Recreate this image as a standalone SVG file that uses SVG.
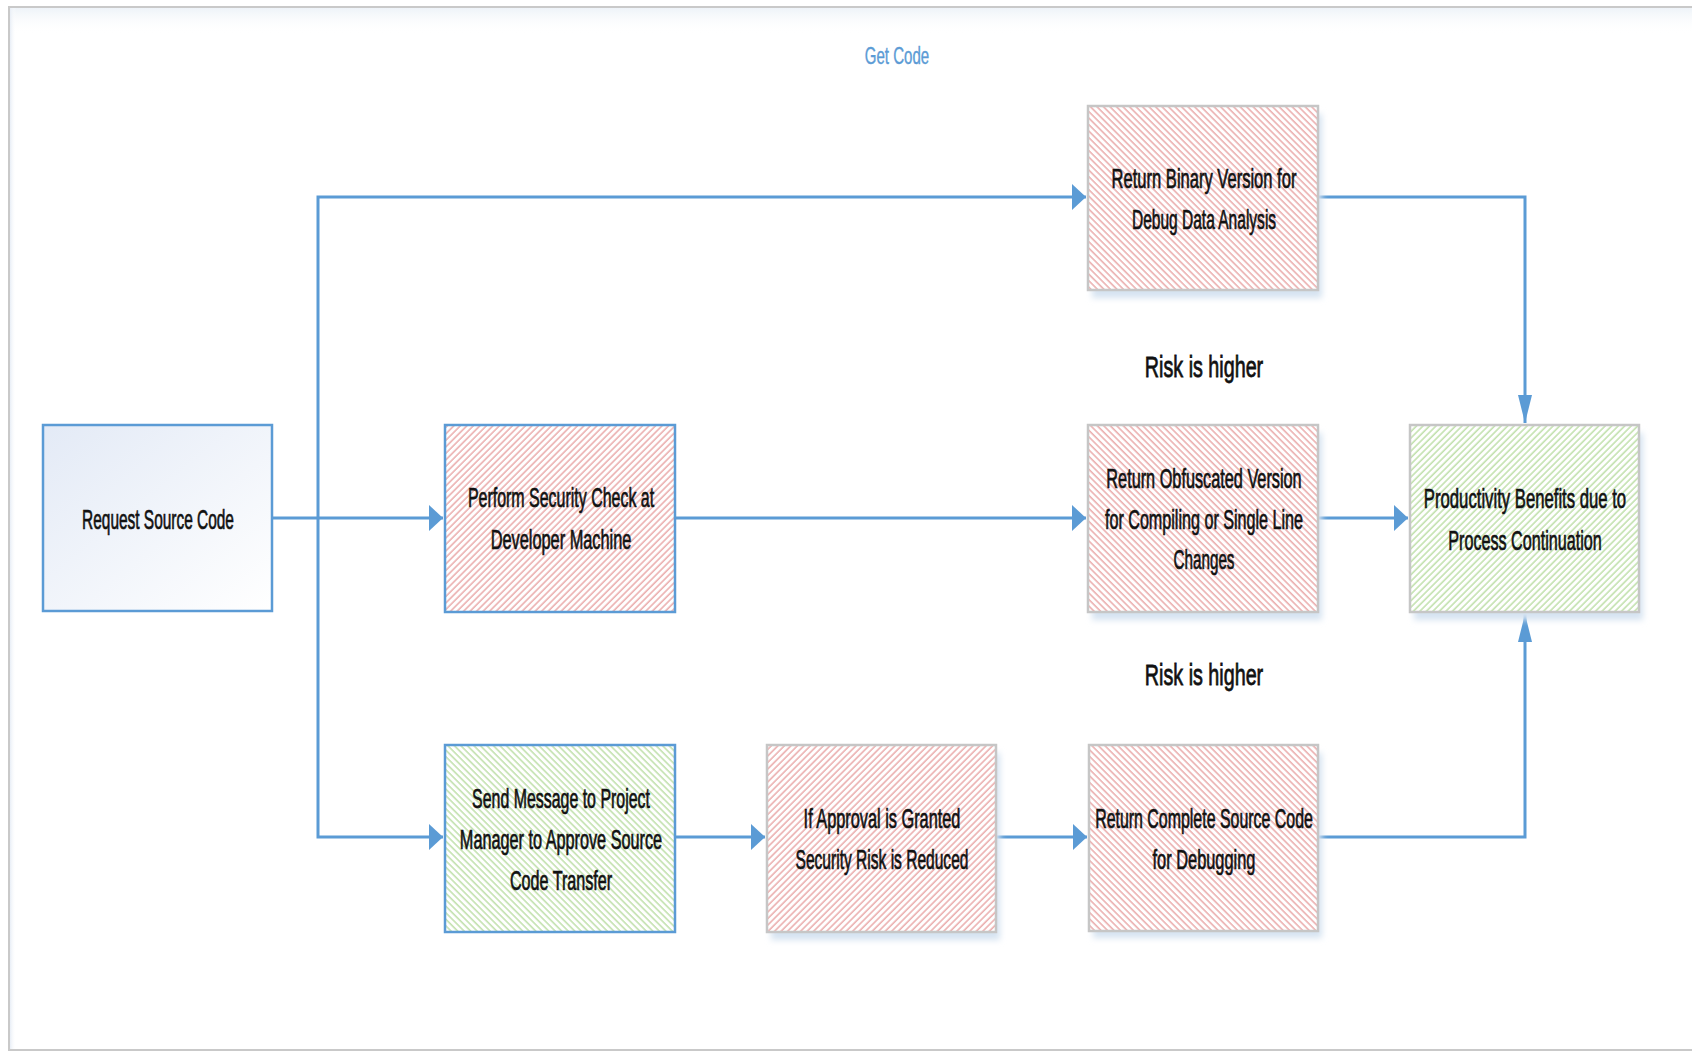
<svg xmlns="http://www.w3.org/2000/svg" width="1692" height="1052" viewBox="0 0 1692 1052">
  <defs>
    <style>
      .lbl { font-family: "Liberation Sans", Arial, sans-serif; font-size: 27px; fill: #111; stroke: #111; stroke-width: 0.7; text-anchor: middle; }
      .risk { font-family: "Liberation Sans", Arial, sans-serif; font-size: 30px; fill: #111; stroke: #111; stroke-width: 0.8; text-anchor: middle; }
      .title { font-family: "Liberation Sans", Arial, sans-serif; font-size: 24px; fill: #5b9bd5; stroke: #5b9bd5; stroke-width: 0.4; text-anchor: middle; }
      .edge { fill: none; stroke: #5b9bd5; stroke-width: 3; }
      .bb { stroke: #5b9bd5; stroke-width: 2.5; }
      .gb { stroke: #c6c6c6; stroke-width: 2.5; }
    </style>
    <!-- diagonal hatch fills -->
    <pattern id="redBack" patternUnits="userSpaceOnUse" width="4.6" height="10" patternTransform="rotate(-45)">
      <rect width="4.6" height="10" fill="#ffffff"/>
      <line x1="1" y1="0" x2="1" y2="10" stroke="#e38c8c" stroke-width="1.1"/>
    </pattern>
    <pattern id="redFwd" patternUnits="userSpaceOnUse" width="4.6" height="10" patternTransform="rotate(45)">
      <rect width="4.6" height="10" fill="#ffffff"/>
      <line x1="1" y1="0" x2="1" y2="10" stroke="#e38c8c" stroke-width="1.1"/>
    </pattern>
    <pattern id="greenBack" patternUnits="userSpaceOnUse" width="4.6" height="10" patternTransform="rotate(-45)">
      <rect width="4.6" height="10" fill="#ffffff"/>
      <line x1="1" y1="0" x2="1" y2="10" stroke="#a8d48a" stroke-width="1.1"/>
    </pattern>
    <pattern id="greenFwd" patternUnits="userSpaceOnUse" width="4.6" height="10" patternTransform="rotate(45)">
      <rect width="4.6" height="10" fill="#ffffff"/>
      <line x1="1" y1="0" x2="1" y2="10" stroke="#a8d48a" stroke-width="1.1"/>
    </pattern>
    <linearGradient id="startFill" x1="0" y1="0" x2="1" y2="1">
      <stop offset="0" stop-color="#e3eaf6"/>
      <stop offset="1" stop-color="#ffffff"/>
    </linearGradient>
    <linearGradient id="topBand" x1="0" y1="0" x2="0" y2="1">
      <stop offset="0" stop-color="#eef3f8"/>
      <stop offset="1" stop-color="#ffffff" stop-opacity="0"/>
    </linearGradient>
    <linearGradient id="leftBand" x1="0" y1="0" x2="1" y2="0">
      <stop offset="0" stop-color="#e8eef6"/>
      <stop offset="1" stop-color="#ffffff" stop-opacity="0"/>
    </linearGradient>
    <filter id="soft" x="-10%" y="-10%" width="120%" height="130%">
      <feGaussianBlur stdDeviation="3"/>
    </filter>
    <!-- arrowheads: horizontal runs and vertical runs -->
    <marker id="ah" markerUnits="userSpaceOnUse" markerWidth="14" markerHeight="26" refX="14" refY="13" orient="auto">
      <path d="M0,0 L14,13 L0,26 Z" fill="#5b9bd5"/>
    </marker>
    <marker id="av" markerUnits="userSpaceOnUse" markerWidth="28" markerHeight="14" refX="28" refY="7" orient="auto">
      <path d="M0,0 L28,7 L0,14 Z" fill="#5b9bd5"/>
    </marker>
  </defs>

  <!-- page -->
  <rect x="0" y="0" width="1692" height="1052" fill="#ffffff"/>
  <rect x="9" y="7" width="1700" height="1043" fill="#ffffff" stroke="#c9c9c9" stroke-width="2"/>
  <rect x="10" y="8" width="1682" height="26" fill="url(#topBand)"/>
  <rect x="10" y="8" width="6" height="1041" fill="url(#leftBand)"/>

  <g transform="translate(897,0) scale(0.7,1)">
    <text class="title" x="0" y="64" textLength="92" lengthAdjust="spacingAndGlyphs">Get Code</text>
  </g>

  <!-- connectors -->
  <g id="connectors">
    <path class="edge" d="M272,518 L443,518" marker-end="url(#ah)"/>
    <path class="edge" d="M318,518 L318,197 L1086,197" marker-end="url(#ah)"/>
    <path class="edge" d="M318,518 L318,837 L443,837" marker-end="url(#ah)"/>
    <path class="edge" d="M675,518 L1086,518" marker-end="url(#ah)"/>
    <path class="edge" d="M1318,518 L1408,518" marker-end="url(#ah)"/>
    <path class="edge" d="M675,837 L765,837" marker-end="url(#ah)"/>
    <path class="edge" d="M996,837 L1087,837" marker-end="url(#ah)"/>
    <path class="edge" d="M1318,197 L1525,197 L1525,423" marker-end="url(#av)"/>
    <path class="edge" d="M1318,837 L1525,837 L1525,614" marker-end="url(#av)"/>
  </g>

  <g id="request-source-code">
    <rect class="bb" x="43" y="425" width="229" height="186" fill="url(#startFill)"/>
    <g transform="translate(158,0) scale(0.7,1)">
      <text class="lbl" x="0" y="529" textLength="217" lengthAdjust="spacingAndGlyphs">Request Source Code</text>
    </g>
  </g>

  <g id="security-check">
    <rect class="bb" x="445" y="425" width="230" height="187" fill="url(#redFwd)"/>
    <g transform="translate(561,0) scale(0.7,1)">
      <text class="lbl" x="0" y="507" textLength="266" lengthAdjust="spacingAndGlyphs">Perform Security Check at</text>
      <text class="lbl" x="0" y="549" textLength="201" lengthAdjust="spacingAndGlyphs">Developer Machine</text>
    </g>
  </g>

  <g id="send-message">
    <rect class="bb" x="445" y="745" width="230" height="187" fill="url(#greenBack)"/>
    <g transform="translate(561,0) scale(0.7,1)">
      <text class="lbl" x="0" y="808" textLength="254" lengthAdjust="spacingAndGlyphs">Send Message to Project</text>
      <text class="lbl" x="0" y="849" textLength="289" lengthAdjust="spacingAndGlyphs">Manager to Approve Source</text>
      <text class="lbl" x="0" y="890" textLength="146" lengthAdjust="spacingAndGlyphs">Code Transfer</text>
    </g>
  </g>

  <g id="approval-granted">
    <rect x="771" y="753" width="229" height="187" fill="#d6e3f1" filter="url(#soft)"/>
    <rect class="gb" x="767" y="745" width="229" height="187" fill="url(#redFwd)"/>
    <g transform="translate(882,0) scale(0.7,1)">
      <text class="lbl" x="0" y="828" textLength="224" lengthAdjust="spacingAndGlyphs">If Approval is Granted</text>
      <text class="lbl" x="0" y="869" textLength="247" lengthAdjust="spacingAndGlyphs">Security Risk is Reduced</text>
    </g>
  </g>

  <g id="binary-version">
    <rect x="1092" y="114" width="230" height="184" fill="#d6e3f1" filter="url(#soft)"/>
    <rect class="gb" x="1088" y="106" width="230" height="184" fill="url(#redBack)"/>
    <g transform="translate(1204,0) scale(0.7,1)">
      <text class="lbl" x="0" y="188" textLength="264" lengthAdjust="spacingAndGlyphs">Return Binary Version for</text>
      <text class="lbl" x="0" y="229" textLength="206" lengthAdjust="spacingAndGlyphs">Debug Data Analysis</text>
    </g>
  </g>

  <g transform="translate(1204,0) scale(0.7,1)">
    <text class="risk" x="0" y="377" textLength="169" lengthAdjust="spacingAndGlyphs">Risk is higher</text>
  </g>

  <g id="obfuscated-version">
    <rect x="1092" y="433" width="230" height="187" fill="#d6e3f1" filter="url(#soft)"/>
    <rect class="gb" x="1088" y="425" width="230" height="187" fill="url(#redBack)"/>
    <g transform="translate(1204,0) scale(0.7,1)">
      <text class="lbl" x="0" y="488" textLength="279" lengthAdjust="spacingAndGlyphs">Return Obfuscated Version</text>
      <text class="lbl" x="0" y="529" textLength="283" lengthAdjust="spacingAndGlyphs">for Compiling or Single Line</text>
      <text class="lbl" x="0" y="569" textLength="87" lengthAdjust="spacingAndGlyphs">Changes</text>
    </g>
  </g>

  <g transform="translate(1204,0) scale(0.7,1)">
    <text class="risk" x="0" y="685" textLength="169" lengthAdjust="spacingAndGlyphs">Risk is higher</text>
  </g>

  <g id="complete-source">
    <rect x="1093" y="753" width="229" height="185" fill="#d6e3f1" filter="url(#soft)"/>
    <rect class="gb" x="1089" y="745" width="229" height="186" fill="url(#redBack)"/>
    <g transform="translate(1204,0) scale(0.7,1)">
      <text class="lbl" x="0" y="828" textLength="311" lengthAdjust="spacingAndGlyphs">Return Complete Source Code</text>
      <text class="lbl" x="0" y="869" textLength="147" lengthAdjust="spacingAndGlyphs">for Debugging</text>
    </g>
  </g>

  <g id="productivity-benefits">
    <rect x="1414" y="433" width="229" height="187" fill="#d6e3f1" filter="url(#soft)"/>
    <rect class="gb" x="1410" y="425" width="229" height="187" fill="url(#greenFwd)"/>
    <g transform="translate(1525,0) scale(0.7,1)">
      <text class="lbl" x="0" y="508" textLength="289" lengthAdjust="spacingAndGlyphs">Productivity Benefits due to</text>
      <text class="lbl" x="0" y="550" textLength="219" lengthAdjust="spacingAndGlyphs">Process Continuation</text>
    </g>
  </g>
</svg>
